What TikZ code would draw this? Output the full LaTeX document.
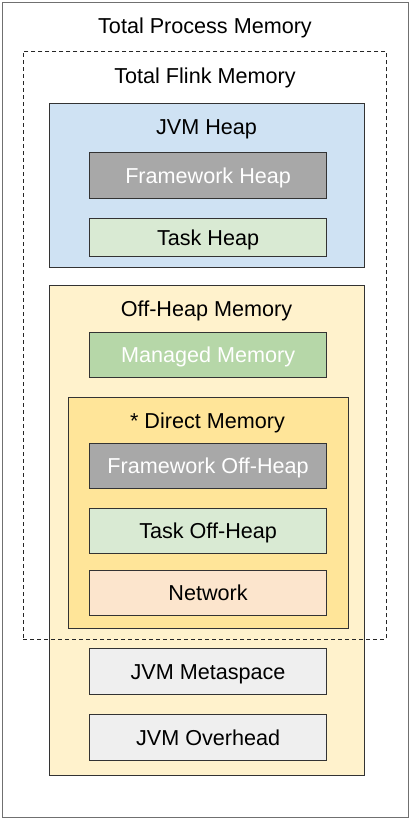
\documentclass[tikz,border=0pt]{standalone}
\usepackage{fontspec}
\setmainfont{Liberation Sans}
\definecolor{outerline}{HTML}{707070}
\definecolor{boxline}{HTML}{333333}
\definecolor{heapblue}{HTML}{CFE2F3}
\definecolor{frameworkgray}{HTML}{A8A8A8}
\definecolor{taskgreen}{HTML}{D9EAD3}
\definecolor{offheapyellow}{HTML}{FFF2CC}
\definecolor{managedgreen}{HTML}{B6D7A8}
\definecolor{directyellow}{HTML}{FFE599}
\definecolor{networkorange}{HTML}{FCE5CD}
\definecolor{jvmgray}{HTML}{EFEFEF}

\begin{document}
\begin{tikzpicture}[x=1pt, y=-1pt, font=\fontsize{21.6}{25}\selectfont,
			box/.style={draw=boxline, line width=1.2pt, anchor=north west, inner sep=0pt},
			part/.style={box, minimum width=237pt, minimum height=46pt, text height=15pt, text depth=0pt},
			heading/.style={anchor=base}]
			\useasboundingbox (0, 0) rectangle (411, 820);
			\fill[white] (0, 0) rectangle (411, 820);

			% outer frame
			\node[box, draw=outerline, minimum width=406pt, minimum height=815pt] (process) at (2, 2) {};
			\node[heading] (processtitle) at (205, 33) {Total Process Memory};
			\node[heading] (flinktitle) at (205, 83) {Total Flink Memory};

			% heap
			\node[box, fill=heapblue, minimum width=315pt, minimum height=164pt] (heap) at (49, 103) {};
			\node[heading] (heaptitle) at (206.5, 134) {JVM Heap};
			\node[part, fill=frameworkgray, text=white] (frameworkheap) at (89, 152) {Framework Heap};
			\node[part, fill=taskgreen, minimum height=38pt] (taskheap) at (89, 218) {Task Heap};

			% off-heap
			\node[box, fill=offheapyellow, minimum width=315pt, minimum height=490pt] (offheap) at (49, 285) {};
			\node[heading] (offheaptitle) at (206.5, 316) {Off-Heap Memory};
			\node[part, fill=managedgreen, text=white, minimum height=45pt] (managed) at (89, 332) {Managed Memory};

			\node[box, fill=directyellow, minimum width=280pt, minimum height=231pt] (direct) at (68, 397) {};
			\node[heading] (directtitle) at (207.5, 428) {* Direct Memory};
			\node[part, fill=frameworkgray, text=white, minimum height=45pt] (frameworkoff) at (89, 443) {Framework Off-Heap};
			\node[part, fill=taskgreen, minimum height=45pt] (taskoff) at (89, 508) {Task Off-Heap};
			\node[part, fill=networkorange, minimum height=45pt] (network) at (89, 570) {Network};

			\node[part, fill=jvmgray] (metaspace) at (89, 648) {JVM Metaspace};
			\node[part, fill=jvmgray] (overhead) at (89, 714) {JVM Overhead};

			% flink memory, dashed on top
			\node[box, draw=black!85, line width=0.9pt, dash pattern=on 4pt off 3pt, minimum width=363pt, minimum height=588pt] (flink) at (23, 51) {};
\end{tikzpicture}
\end{document}
